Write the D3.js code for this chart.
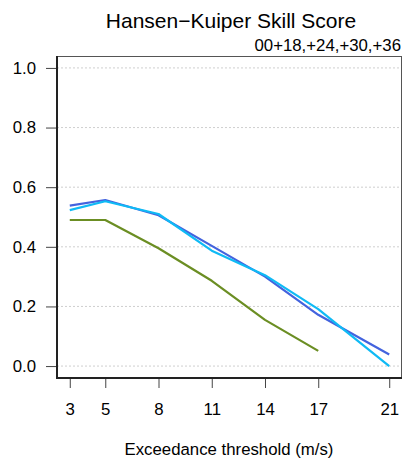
<!DOCTYPE html>
<html><head><meta charset="utf-8">
<script src="https://cdn.jsdelivr.net/npm/d3@7"></script>
<style>body{margin:0;background:#fff}svg{display:block;font-family:"Liberation Sans",Arial,sans-serif}</style>
</head><body><svg id="c" width="403" height="461"></svg>
<script>
const thresholds = [3, 5, 8, 11, 14, 17, 21];
const yTicks = [0.0, 0.2, 0.4, 0.6, 0.8, 1.0];
const seriesNames = ["s1", "s2", "s3"];
const seriesColors = ["#4363de", "#0fbaf5", "#6b8e23"];
const s1 = [0.538, 0.557, 0.506, 0.403, 0.300, 0.172, 0.039];
const s2 = [0.523, 0.553, 0.510, 0.387, 0.305, 0.191, 0.000];
const s3 = [0.490, 0.490, 0.395, 0.286, 0.155, 0.051, null];
const seriesValues = [s1, s2, s3];
const title = "Hansen\u2212Kuiper Skill Score";
const subtitle = "00+18,+24,+30,+36";
const xLabel = "Exceedance threshold (m/s)";

const svg = d3.select("#c");
const L = 57, R = 402, T = 56, B = 378;
const x = d3.scaleLinear().domain([2.28, 21.72]).range([L, R]);
const y = d3.scaleLinear().domain([-0.04, 1.04]).range([B, T]);
const FF = "Liberation Sans, Arial, sans-serif";

// grid
svg.append("g").selectAll("line").data(yTicks).join("line")
  .attr("x1", L).attr("x2", R).attr("y1", d => y(d)).attr("y2", d => y(d))
  .attr("stroke", "#cfcfcf").attr("stroke-width", 1).attr("stroke-dasharray", "2,2");

// lines
const line = d3.line().defined(d => d[1] != null).x(d => x(d[0])).y(d => y(d[1]));
seriesValues.forEach((vals, i) => {
  svg.append("path").datum(thresholds.map((t, j) => [t, vals[j]]))
    .attr("d", line).attr("fill", "none").attr("stroke", seriesColors[i])
    .attr("stroke-width", 2.2).attr("stroke-linejoin", "round");
});

// box
svg.append("line").attr("x1", L).attr("x2", R).attr("y1", T + 0.5).attr("y2", T + 0.5).attr("stroke", "#555").attr("stroke-width", 1);
svg.append("line").attr("x1", R - 0.5).attr("x2", R - 0.5).attr("y1", T).attr("y2", B).attr("stroke", "#555").attr("stroke-width", 1);
svg.append("line").attr("x1", L).attr("x2", L).attr("y1", T).attr("y2", B + 1).attr("stroke", "#222").attr("stroke-width", 2);
svg.append("line").attr("x1", L).attr("x2", R).attr("y1", B).attr("y2", B).attr("stroke", "#222").attr("stroke-width", 2);

// y axis
const ya = svg.append("g").attr("transform", `translate(${L - 1},0)`)
  .call(d3.axisLeft(y).tickValues(yTicks).tickFormat(d3.format(".1f")).tickSize(10).tickPadding(10));
ya.select(".domain").remove();
ya.selectAll(".tick line").attr("stroke", "#444");
ya.selectAll("text").attr("font-size", 16.8).attr("fill", "#000").style("font-family", FF);

// x axis
const xa = svg.append("g").attr("transform", `translate(0,${B + 1})`)
  .call(d3.axisBottom(x).tickValues(thresholds).tickFormat(d3.format("d")).tickSize(9).tickPadding(15));
xa.select(".domain").remove();
xa.selectAll(".tick line").attr("stroke", "#444");
xa.selectAll("text").attr("font-size", 16.8).attr("fill", "#000").style("font-family", FF);

svg.append("text").attr("x", 231).attr("y", 27.5).attr("text-anchor", "middle")
  .attr("font-size", 21).text(title);
svg.append("text").attr("x", 401).attr("y", 51).attr("text-anchor", "end")
  .attr("font-size", 16.8).text(subtitle);
svg.append("text").attr("x", 229).attr("y", 455).attr("text-anchor", "middle")
  .attr("font-size", 16.8).text(xLabel);
</script></body></html>
